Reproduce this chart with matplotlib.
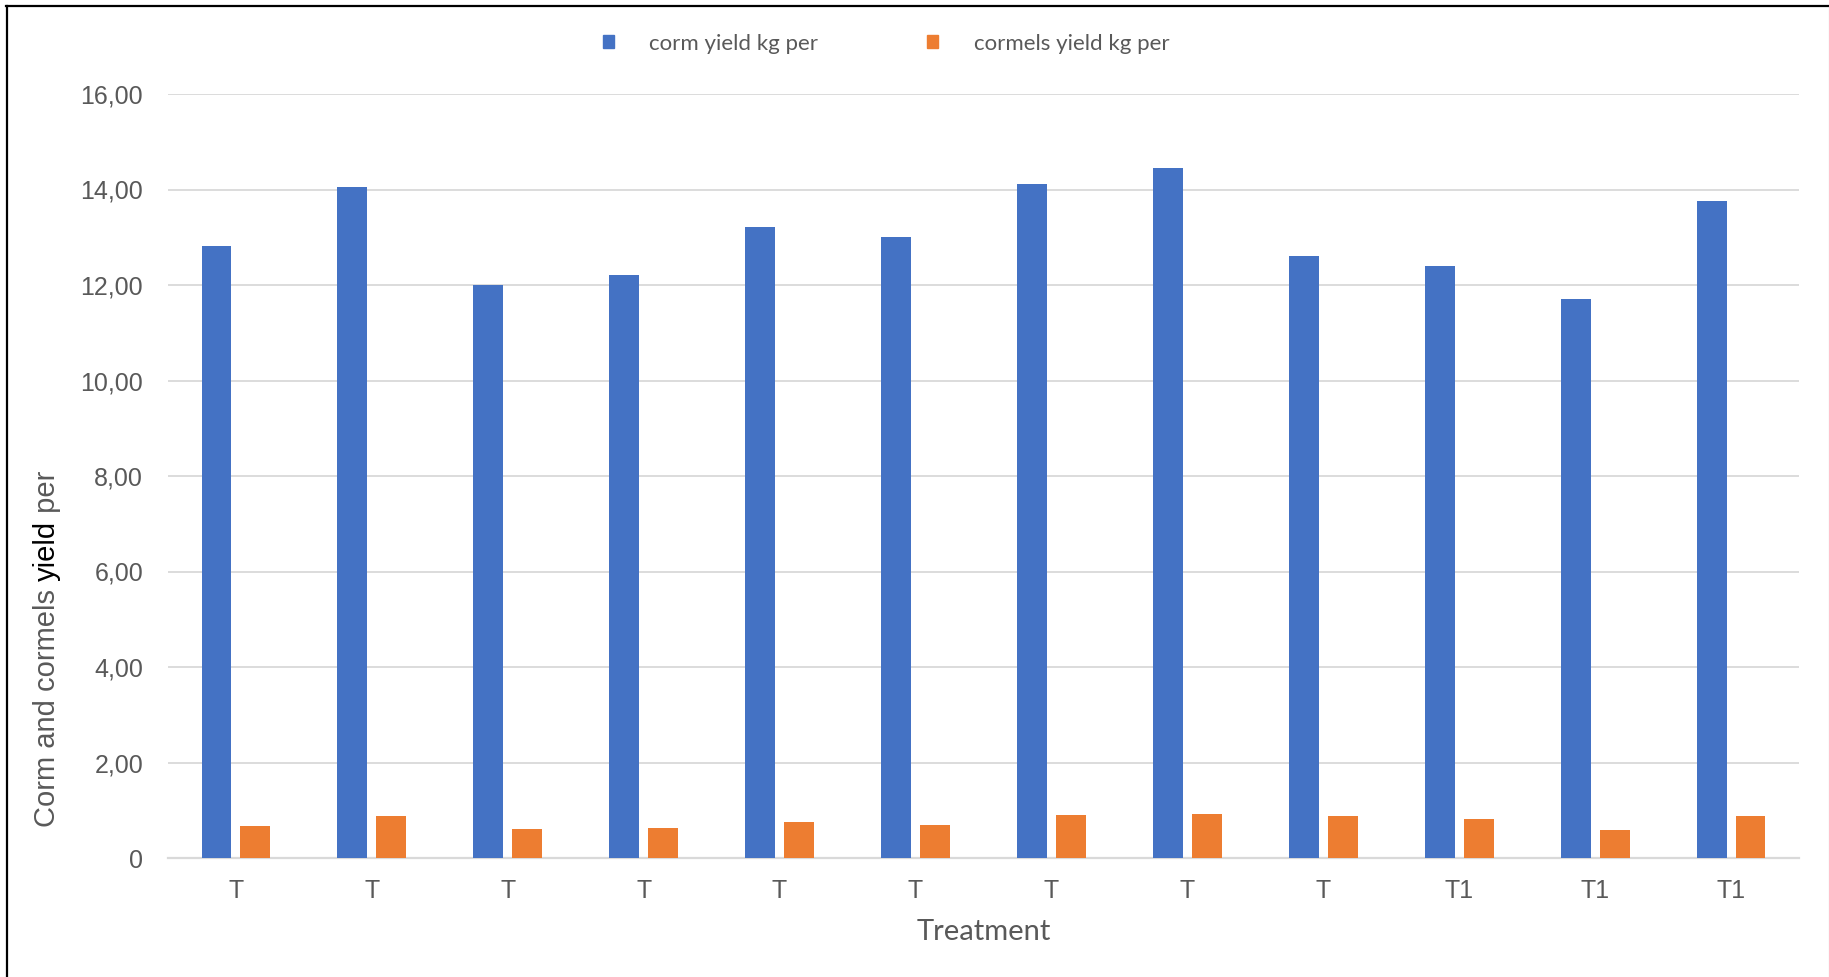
import numpy as np
import matplotlib.pyplot as plt
from matplotlib.patches import Patch
from matplotlib.lines import Line2D

# data per treatment
perlakuan = ["T", "T", "T", "T", "T", "T", "T", "T", "T", "T1", "T1", "T1"]
corm = [12.82, 14.05, 12.00, 12.21, 13.21, 13.00, 14.12, 14.45, 12.61, 12.40, 11.71, 13.76]
cormels = [0.68, 0.87, 0.61, 0.63, 0.75, 0.70, 0.90, 0.92, 0.87, 0.81, 0.59, 0.87]
y_ticks = [0, 2, 4, 6, 8, 10, 12, 14, 16]
y_labels = ["0", "2,00", "4,00", "6,00", "8,00", "10,00", "12,00", "14,00", "16,00"]

abu = "#595959"
biru = "#4472C4"
oranye = "#ED7D31"

W, H = 1829, 977
fig = plt.figure(figsize=(W / 100, H / 100), dpi=100)
ax = fig.add_axes([168 / W, 1 - 858 / H, (1799 - 168) / W, (858 - 94) / H])

x = np.arange(len(perlakuan))
lebar = 0.22
geser = 0.143
ax.bar(x - geser, corm, lebar, color=biru, zorder=3)
ax.bar(x + geser, cormels, lebar, color=oranye, zorder=3)

ax.set_xlim(-0.5, len(perlakuan) - 0.5)
ax.set_ylim(0, 16)
ax.set_yticks(y_ticks)
ax.set_yticklabels(y_labels)
ax.set_xticks(x)
ax.set_xticklabels(perlakuan)
ax.tick_params(axis="both", length=0, labelsize=18, labelcolor=abu)
ax.tick_params(axis="y", pad=18)
ax.tick_params(axis="x", pad=15)
for lbl in ax.get_xticklabels() + ax.get_yticklabels():
    lbl.set_fontfamily("Liberation Sans")

ax.grid(axis="y", color="#d9d9d9", linewidth=1.3, zorder=0)
for s in ["top", "right", "left"]:
    ax.spines[s].set_visible(False)
ax.spines["bottom"].set_color("#d9d9d9")
ax.spines["bottom"].set_linewidth(1.6)

ax.set_xlabel("Treatment", fontsize=21, color=abu, family="Lato", labelpad=12)

# y label in three pieces, "yield" in black
t1 = fig.text(47 / W, 150 / H, "Corm and cormels ", rotation=90, ha="center", va="bottom",
              fontsize=21, color=abu, family="Liberation Sans")
t2 = ax.annotate("yield", xy=(0.5, 1), xycoords=t1, rotation=90, ha="center", va="bottom",
                 fontsize=21, color="black", family="Liberation Sans")
t3 = ax.annotate(" per", xy=(0.5, 1), xycoords=t2, rotation=90, ha="center", va="bottom",
                 fontsize=21, color=abu, family="Liberation Sans")

handles = [Patch(color=biru, label="corm yield kg per"),
           Patch(color=oranye, label="cormels yield kg per")]
fig.legend(handles=handles, loc="center", bbox_to_anchor=(886 / W, 1 - 43.5 / H), ncol=2,
           frameon=False, handlelength=0.5, handleheight=0.5, handletextpad=1.6,
           columnspacing=4.9, prop={"family": "Lato", "size": 16}, labelcolor=abu)

# frame around the chart
fig.add_artist(Line2D([7 / W, 7 / W], [0, 1 - 6 / H], transform=fig.transFigure, color="black", lw=1.6))
fig.add_artist(Line2D([6 / W, 1828 / W], [1 - 6 / H, 1 - 6 / H], transform=fig.transFigure, color="black", lw=1.6))
fig.add_artist(Line2D([1828.5 / W, 1828.5 / W], [0, 1 - 6 / H], transform=fig.transFigure, color="#a6a6a6", lw=0.8))

fig.savefig("out.png", dpi=100, facecolor="white")
